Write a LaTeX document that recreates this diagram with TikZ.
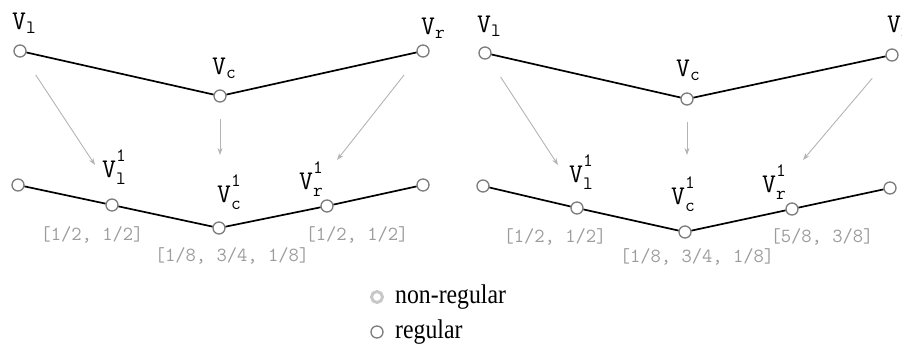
\documentclass[tikz,border=0pt]{standalone}
\usepackage{amsmath}
\usepackage{fontspec}
\newfontfamily\legfont[FakeStretch=0.88]{Liberation Serif}
\usetikzlibrary{arrows.meta}
\definecolor{ringc}{HTML}{7C7C7C}
\definecolor{ringl}{HTML}{C8C8C8}
\definecolor{arrc}{HTML}{B4B4B4}
\definecolor{wtc}{HTML}{9C9C9C}
\newcommand{\vsub}[1]{V$_{\text{#1}}$}
\newcommand{\vsubsup}[2]{V$_{\text{#1}}^{\text{\raisebox{7pt}{#2}}}$}
\tikzset{
  vtx/.style={circle, draw=ringc, line width=1.3pt, fill=white, minimum size=12pt, inner sep=0pt},
  vtxnr/.style={circle, draw=ringl, line width=3pt, fill=white, minimum size=11pt, inner sep=0pt},
  vlbl/.style={anchor=base west, inner sep=0pt, font=\fontsize{27}{29}\selectfont\ttfamily},
  wts/.style={font=\fontsize{20}{22}\selectfont\ttfamily, text=wtc, inner sep=0pt},
  edge/.style={draw=black, line width=1.7pt},
  arr/.style={-{Stealth[length=7pt, width=5pt]}, draw=arrc, line width=0.9pt},
  leg/.style={anchor=base west, inner sep=0pt, font=\fontsize{27}{29}\selectfont\legfont},
}
\begin{document}
\begin{tikzpicture}[x=1pt, y=1pt]
  \useasboundingbox (0,0) rectangle (902,343);
  % left: coarse polygon
  \node[vtx] (vlA) at (20,292) {};
  \node[vtx] (vcA) at (220,247) {};
  \node[vtx] (vrA) at (423,292) {};
  \draw[edge] (vlA) -- (vcA) -- (vrA);
  \node[vlbl] (lvlA) at (12,313) {\vsub{l}};
  \node[vlbl] (lvcA) at (212,268) {\vsub{c}};
  \node[vlbl] (lvrA) at (421,308) {\vsub{r}};
  % left: refined polygon
  \node[vtx] (a0) at (18,158) {};
  \node[vtx] (a1) at (112,138) {};
  \node[vtx] (a2) at (219,115) {};
  \node[vtx] (a3) at (327,137) {};
  \node[vtx] (a4) at (423,158) {};
  \draw[edge] (a0) -- (a1) -- (a2) -- (a3) -- (a4);
  \node[vlbl] (la1) at (102,165) {\vsubsup{l}{1}};
  \node[vlbl] (la2) at (217,140) {\vsubsup{c}{1}};
  \node[vlbl] (la3) at (299,153) {\vsubsup{r}{1}};
  \node[wts] (wa1) at (92,108) {[1/2, 1/2]};
  \node[wts] (wa2) at (232,87) {[1/8, 3/4, 1/8]};
  \node[wts] (wa3) at (357,108) {[1/2, 1/2]};
  % left: arrows
  \coordinate (tlA) at (95,178);
  \coordinate (tcA) at (220,188);
  \coordinate (trA) at (337,183);
  \draw[arr, shorten <=22pt] (vlA) -- (tlA);
  \draw[arr, shorten <=16pt] (vcA) -- (tcA);
  \draw[arr, shorten <=24pt] (vrA) -- (trA);
  % right: coarse polygon
  \node[vtx] (vlB) at (485,290) {};
  \node[vtx] (vcB) at (687,244) {};
  \node[vtx] (vrB) at (892,288) {};
  \draw[edge] (vlB) -- (vcB) -- (vrB);
  \node[vlbl] (lvlB) at (477,310) {\vsub{l}};
  \node[vlbl] (lvcB) at (676,266) {\vsub{c}};
  \node[vlbl] (lvrB) at (887,310) {\vsub{r}};
  % right: refined polygon
  \node[vtx] (b0) at (483,157) {};
  \node[vtx] (b1) at (577,135) {};
  \node[vtx] (b2) at (685,111) {};
  \node[vtx] (b3) at (792,134) {};
  \node[vtx] (b4) at (890,155) {};
  \draw[edge] (b0) -- (b1) -- (b2) -- (b3) -- (b4);
  \node[vlbl] (lb1) at (569,160) {\vsubsup{l}{1}};
  \node[vlbl] (lb2) at (671,138) {\vsubsup{c}{1}};
  \node[vlbl] (lb3) at (762,150) {\vsubsup{r}{1}};
  \node[wts] (wb1) at (555,106) {[1/2, 1/2]};
  \node[wts] (wb2) at (697,86) {[1/8, 3/4, 1/8]};
  \node[wts] (wb3) at (822,106) {[5/8, 3/8]};
  % right: arrows
  \coordinate (tlB) at (558,178);
  \coordinate (tcB) at (687,188);
  \coordinate (trB) at (803,183);
  \draw[arr, shorten <=22pt] (vlB) -- (tlB);
  \draw[arr, shorten <=16pt] (vcB) -- (tcB);
  \draw[arr, shorten <=24pt] (vrB) -- (trB);
  % legend
  \node[vtxnr] (kn) at (377,46) {};
  \node[leg] (kntxt) at (395,40) {non-regular};
  \node[vtx] (kr) at (377,11) {};
  \node[leg] (krtxt) at (395,5) {regular};
\end{tikzpicture}
\end{document}
